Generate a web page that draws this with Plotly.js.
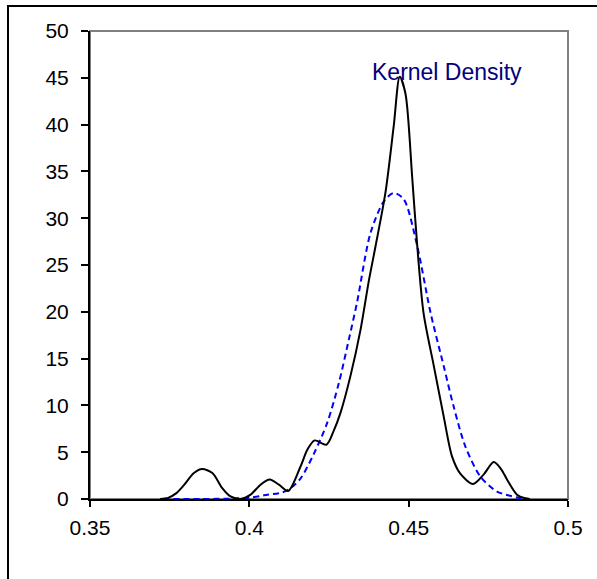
<!DOCTYPE html>
<html>
<head>
<meta charset="utf-8">
<script src="https://cdn.plot.ly/plotly-3.0.1.min.js"></script>
<style>
  html, body { margin: 0; padding: 0; background: #fff; }
  #wrap { position: relative; width: 597px; height: 579px; overflow: hidden; }
  #chart { position: absolute; left: 0; top: 0; width: 597px; height: 579px; }
  #frame { position: absolute; left: 7px; top: 5px; width: 700px; height: 700px;
           border-left: 2px solid #000; border-top: 2px solid #000; pointer-events: none; z-index: 5; }
</style>
</head>
<body>
<div id="wrap">
  <div id="chart"></div>
  <div id="frame"></div>
</div>
<script>
// Kernel density (black solid)
const kdX = [0.372, 0.3745, 0.377, 0.3794, 0.3826, 0.3852, 0.3884, 0.3915, 0.3941, 0.3975, 0.4004, 0.4035, 0.4064, 0.4093, 0.4122, 0.4161, 0.4182, 0.4205, 0.4242, 0.4265, 0.4286, 0.4317, 0.4349, 0.4375, 0.4396, 0.4427, 0.4453, 0.4472, 0.4490, 0.4511, 0.4527, 0.4547, 0.4579, 0.4610, 0.4636, 0.4662, 0.4702, 0.4735, 0.4767, 0.4790, 0.4809, 0.4840, 0.4866, 0.4880];
const kdY = [0, 0.12, 0.6, 1.45, 2.78, 3.2, 2.78, 1.17, 0.28, 0.02, 0.46, 1.53, 2.08, 1.53, 0.85, 3.5, 5.26, 6.26, 5.8, 7.3, 9.2, 13.1, 18.1, 23.3, 27.0, 32.7, 39.8, 45.1, 43.3, 34.4, 27.0, 19.8, 14.2, 8.8, 4.55, 2.7, 1.6, 2.6, 3.95, 3.2, 2.06, 0.46, 0.08, 0];
// Normal reference (blue dashed)
const normX = [0.373, 0.385, 0.395, 0.4004, 0.4046, 0.4103, 0.4129, 0.4161, 0.4202, 0.4244, 0.4281, 0.4312, 0.4338, 0.4380, 0.4422, 0.4453, 0.4485, 0.4527, 0.4568, 0.4610, 0.4641, 0.4678, 0.4725, 0.4777, 0.4840, 0.4870];
const normY = [0, 0.0, 0.05, 0.15, 0.4, 0.7, 1.15, 2.2, 4.8, 8.1, 12.4, 17.0, 21.0, 28.4, 31.8, 32.7, 32.0, 27.0, 20.0, 14.2, 9.9, 5.6, 2.4, 0.8, 0.17, 0.0];

const xTickVals = [0.35, 0.4, 0.45, 0.5];
const xTickText = ['0.35', '0.4', '0.45', '0.5'];
const yTickVals = [0, 5, 10, 15, 20, 25, 30, 35, 40, 45, 50];
const yTickText = ['0', '5', '10', '15', '20', '25', '30', '35', '40', '45', '50'];
const label = 'Kernel Density';

const font = 'Liberation Sans, Arial, sans-serif';

const traces = [
  { x: normX, y: normY, type: 'scatter', mode: 'lines',
    line: { color: '#0000FF', width: 2, dash: '6px,4px', shape: 'spline', smoothing: 0.8 },
    hoverinfo: 'skip', showlegend: false },
  { x: kdX, y: kdY, type: 'scatter', mode: 'lines',
    line: { color: '#000000', width: 2, shape: 'spline', smoothing: 0.8 },
    hoverinfo: 'skip', showlegend: false }
];

const layout = {
  width: 597, height: 579,
  margin: { l: 90, r: 29, t: 31, b: 80, pad: 0 },
  paper_bgcolor: '#ffffff', plot_bgcolor: '#ffffff',
  showlegend: false,
  font: { family: font, size: 21, color: '#000' },
  xaxis: {
    range: [0.35, 0.5], tickvals: xTickVals, ticktext: xTickText,
    showgrid: false, zeroline: false,
    showline: true, linecolor: '#000', linewidth: 2,
    ticks: 'outside', ticklen: 6, tickwidth: 2, tickcolor: '#000',
    ticklabelstandoff: 3,
    tickfont: { family: font, size: 21, color: '#000' }
  },
  yaxis: {
    range: [0, 50], tickvals: yTickVals, ticktext: yTickText,
    showgrid: false, zeroline: false,
    showline: true, linecolor: '#000', linewidth: 2,
    ticks: 'outside', ticklen: 7, tickwidth: 2, tickcolor: '#000',
    ticklabelstandoff: 8,
    tickfont: { family: font, size: 21, color: '#000' }
  },
  shapes: [
    { type: 'rect', xref: 'paper', yref: 'paper', x0: 0, x1: 1, y0: 0, y1: 1,
      line: { color: '#808080', width: 2 }, layer: 'below' }
  ],
  annotations: [
    { text: label, xref: 'paper', yref: 'paper', x: 0.586, y: 0.913,
      xanchor: 'left', yanchor: 'middle', showarrow: false,
      font: { family: font, size: 23, color: '#000080' } }
  ]
};

Plotly.newPlot('chart', traces, layout, { displayModeBar: false, staticPlot: true });
</script>
</body>
</html>
